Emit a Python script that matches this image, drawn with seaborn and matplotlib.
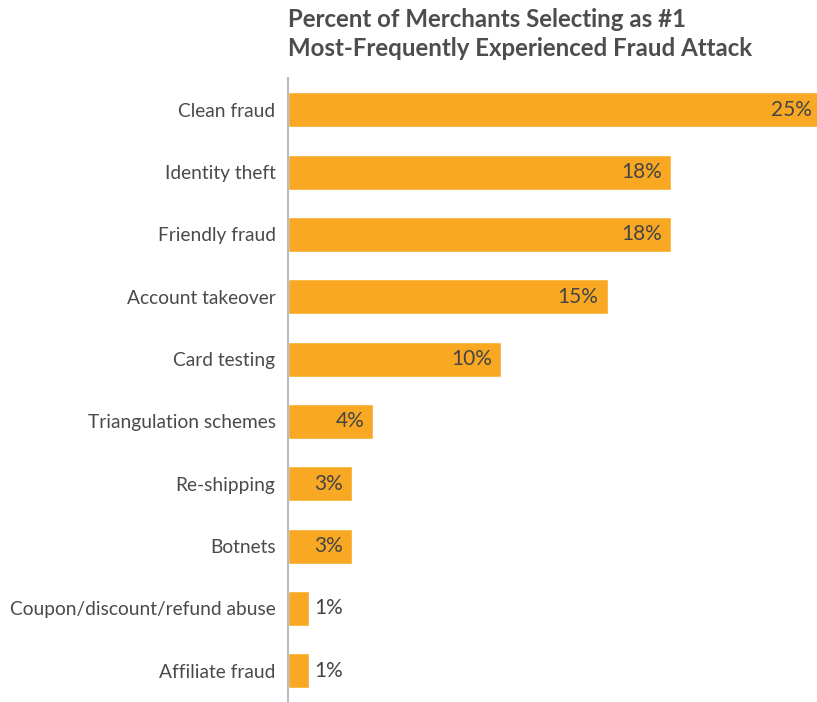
import matplotlib
matplotlib.use("Agg")
import matplotlib.pyplot as plt
import seaborn as sns
import pandas as pd

categories = ["Clean fraud", "Identity theft", "Friendly fraud", "Account takeover",
              "Card testing", "Triangulation schemes", "Re-shipping", "Botnets",
              "Coupon/discount/refund abuse", "Affiliate fraud"]
values = [25, 18, 18, 15, 10, 4, 3, 3, 1, 1]
value_labels = ["25%", "18%", "18%", "15%", "10%", "4%", "3%", "3%", "1%", "1%"]
title = "Percent of Merchants Selecting as #1\nMost-Frequently Experienced Fraud Attack"

sns.set_theme(style="white")
plt.rcParams["font.family"] = ["Lato", "DejaVu Sans"]

df = pd.DataFrame({"cat": categories, "val": values})

W, H = 817, 702
fig = plt.figure(figsize=(W / 100, H / 100), dpi=100)
ax = fig.add_axes([288 / W, 0, 1 - 288 / W, 1 - 78 / H])

sns.barplot(data=df, y="cat", x="val", orient="h", color="#F8A823",
            saturation=1, width=0.56, ax=ax)

ax.set_xlim(0, (W - 288) / 21.3)
ax.set_ylim(9.5, -0.51)
ax.set_xlabel("")
ax.set_ylabel("")
ax.set_xticks([])
for s in ["top", "right", "bottom"]:
    ax.spines[s].set_visible(False)
ax.spines["left"].set_color("#B4BCCB")
ax.spines["left"].set_linewidth(1.5)
ax.tick_params(axis="y", length=0, pad=9, labelsize=13.8, labelcolor="#4a4a4a")

for i, (v, lab) in enumerate(zip(values, value_labels)):
    if v >= 3:
        ax.annotate(lab, (v, i), xytext=(-9, 0), textcoords="offset pixels",
                    ha="right", va="center", fontsize=15, color="#454545",
                    annotation_clip=False)
    else:
        ax.annotate(lab, (v, i), xytext=(5, 0), textcoords="offset pixels",
                    ha="left", va="center", fontsize=15, color="#454545",
                    annotation_clip=False)

fig.text(288 / W, 1 - 8 / H, title, ha="left", va="top", fontsize=17.3,
         fontweight="bold", color="#4d4d4f", linespacing=1.3)

fig.savefig("out.png", dpi=100)
